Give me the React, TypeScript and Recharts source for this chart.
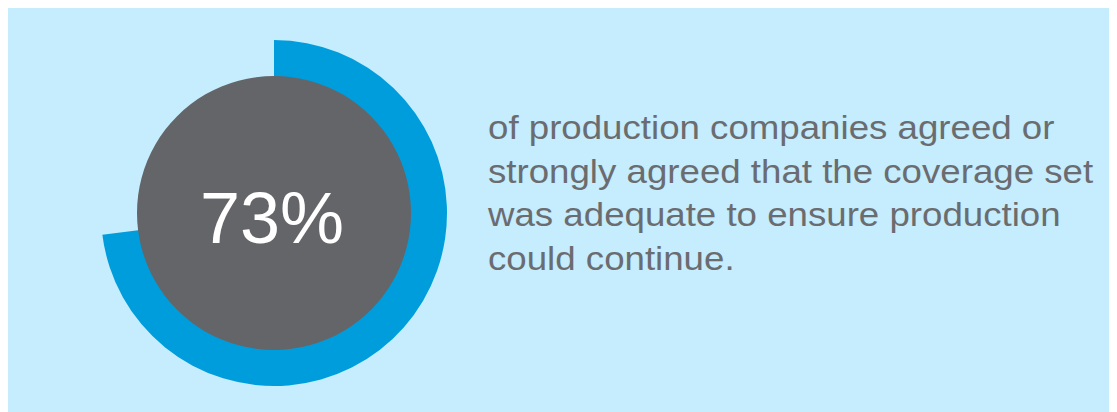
import { Cell, Label, Pie, PieChart } from "recharts";

// share of companies that agreed, and the rest of the ring
const shareLabels = ["agreed", "rest"];
const shareValues = [73, 27];
const wholeValues = [100];

const headline = "73%";
const captionLines = [
  "of production companies agreed or",
  "strongly agreed that the coverage set",
  "was adequate to ensure production",
  "could continue.",
];

const BG = "#c5edfd";
const BLUE = "#009ddc";
const GREY = "#636569";
const TEXT = "#6b6c70";

const ringData = shareLabels.map((name, i) => ({ name, value: shareValues[i] }));
const discData = wholeValues.map((value) => ({ name: "all", value }));

export default function App() {
  return (
    <div
      style={{
        position: "relative",
        width: 1109,
        height: 404,
        background: BG,
        fontFamily: "'Liberation Sans', Arial, sans-serif",
      }}
    >
      <PieChart
        width={1109}
        height={404}
        margin={{ top: 0, right: 0, bottom: 0, left: 0 }}
        style={{ position: "absolute", left: 0, top: 0 }}
      >
        <Pie
          data={ringData}
          dataKey="value"
          cx={266}
          cy={205}
          innerRadius={125}
          outerRadius={173}
          startAngle={90}
          endAngle={-270}
          stroke="none"
          isAnimationActive={false}
        >
          {ringData.map((d, i) => (
            <Cell key={d.name} fill={i === 0 ? BLUE : "none"} />
          ))}
        </Pie>
        <Pie
          data={discData}
          dataKey="value"
          cx={266}
          cy={205}
          innerRadius={0}
          outerRadius={137}
          stroke="none"
          fill={GREY}
          isAnimationActive={false}
        >
          <Label
            content={(props: any) => {
              const vb = props.viewBox || {};
              return (
                <text
                  x={(vb.cx ?? 266) - 2}
                  y={(vb.cy ?? 205) + 30}
                  textAnchor="middle"
                  fill="#ffffff"
                  fontSize={72}
                  fontFamily="'Liberation Sans', Arial, sans-serif"
                >
                  {headline}
                </text>
              );
            }}
          />
        </Pie>
      </PieChart>
      {/* the source font runs a little wider than Liberation Sans */}
      <div
        style={{
          position: "absolute",
          left: 480,
          top: 98,
          color: TEXT,
          fontSize: 34,
          lineHeight: "43.5px",
          whiteSpace: "nowrap",
          transform: "scaleX(1.078)",
          transformOrigin: "left top",
        }}
      >
        {captionLines.map((line) => (
          <div key={line}>{line}</div>
        ))}
      </div>
    </div>
  );
}
